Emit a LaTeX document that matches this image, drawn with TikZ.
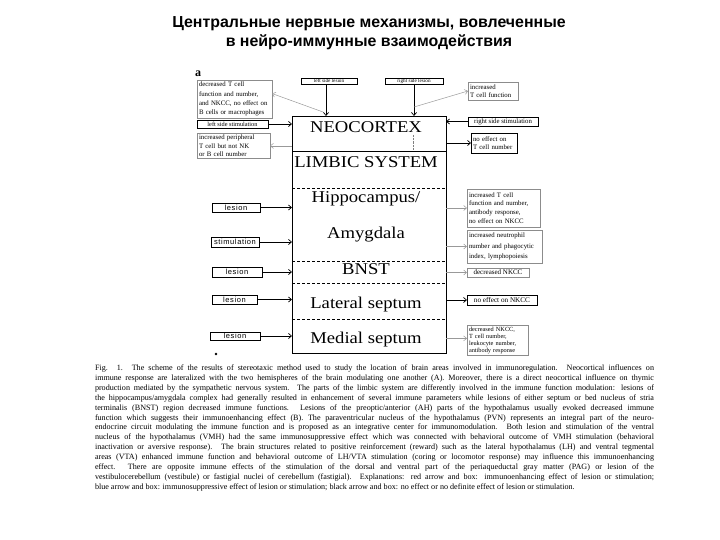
\documentclass[tikz,border=0pt]{standalone}
\usepackage{fontspec}
\setmainfont{Liberation Serif}
\newfontfamily\titlefont{Liberation Sans}
\newfontfamily\lesfont[LetterSpace=8]{Liberation Sans}
\usetikzlibrary{arrows.meta}
\begin{document}
\begin{tikzpicture}[x=1pt,y=-1pt,
  every node/.style={inner sep=0pt, outer sep=0pt},
  blk/.style={draw=black, line width=0.9pt, inner sep=2pt},
  gry/.style={draw=black!45, line width=0.6pt, inner sep=2pt},
  arr/.style={-{Straight Barb[length=3pt,width=5pt]}, line width=0.7pt},
  garr/.style={-{Straight Barb[length=3pt,width=5pt]}, draw=black!40, line width=0.5pt},
  lbl/.style={font=\fontsize{16.5}{18}\selectfont, anchor=base},
  sm/.style={font=\fontsize{6.8}{8.8}\selectfont, align=left},
  les/.style={draw=black, line width=0.8pt, font=\lesfont\fontsize{7.5}{8}\selectfont},
  captxt/.style={font=\fontsize{8.1}{9}\selectfont, anchor=base west},
  ttl/.style={font=\titlefont\bfseries\fontsize{15.9}{18}\selectfont, anchor=base},
]
\useasboundingbox (0,0) rectangle (720,540);
% title
\node[ttl] (t1) at (369,28) {Центральные нервные механизмы, вовлеченные};
\node[ttl] (t2) at (369,46.5) {в нейро-иммунные взаимодействия};
\node[font=\bfseries\fontsize{12}{12}\selectfont, anchor=base west] (a) at (195,77) {a};
% column
\node[draw=black, line width=0.8pt, minimum width=154pt, minimum height=237pt, anchor=north west] (col) at (292,116) {};
\draw[line width=0.8pt] (292,151) -- (446,151);
\draw[densely dashed, line width=0.6pt] (292,188) -- (446,188);
\draw[densely dashed, line width=0.6pt] (292,261) -- (446,261);
\draw[densely dashed, line width=0.6pt] (292,283) -- (446,283);
\draw[densely dashed, line width=0.6pt] (292,319) -- (446,319);
\draw[densely dotted, black!50] (413,135) -- (413,150);
\node[lbl] (neo) at (366,133) {\scalebox{1.13}[1]{NEOCORTEX}};
\node[lbl] (lim) at (366,168) {\scalebox{1.13}[1]{LIMBIC SYSTEM}};
\node[lbl] (hip) at (366,203) {\scalebox{1.13}[1]{Hippocampus/}};
\node[lbl] (amy) at (366,238) {\scalebox{1.13}[1]{Amygdala}};
\node[lbl] (bnst) at (366,274) {\scalebox{1.13}[1]{BNST}};
\node[lbl] (lat) at (366,308) {\scalebox{1.13}[1]{Lateral septum}};
\node[lbl] (med) at (366,343) {\scalebox{1.13}[1]{Medial septum}};
% top boxes
\node[blk, line width=0.7pt, inner sep=0pt, minimum width=56pt, minimum height=6pt, anchor=north west, font=\fontsize{5.2}{5.2}\selectfont] (tl) at (301,78) {left side lesion};
\node[blk, line width=0.7pt, inner sep=0pt, minimum width=58pt, minimum height=6pt, anchor=north west, font=\fontsize{5.2}{5.2}\selectfont] (tr) at (385,78) {right side lesion};
\draw[arr] ([xshift=-3pt]tl.south) -- ([xshift=-3pt]tl.south |- col.north);
\draw[arr] (tr.south) -- (tr.south |- col.north);
% left upper boxes
\node[gry, minimum width=75pt, minimum height=37pt, anchor=north west, text width=71pt, sm, font=\fontsize{6.8}{9.3}\selectfont] (lt1) at (197,80) {decreased T cell\\function and number,\\and NKCC, no effect on\\B cells or macrophages};
\node[blk, minimum width=71pt, minimum height=8pt, inner sep=0pt, anchor=north west, font=\fontsize{6.3}{6.5}\selectfont] (lt2) at (197,120) {left side stimulation};
\node[gry, minimum width=73pt, minimum height=25pt, anchor=north west, text width=69pt, sm, font=\fontsize{6.8}{8.5}\selectfont] (lt3) at (197,133) {increased peripheral\\T cell but not NK\\or B cell number};
\draw[arr] (lt2.east) -- (lt2.east -| col.west);
\draw[garr] ([xshift=-6pt,yshift=-28pt]tl.south) -- ([yshift=5.5pt]lt1.east);
\draw[garr] (lt3.east -| col.west) -- (lt3.east);
% right upper boxes
\node[gry, minimum width=50pt, minimum height=18pt, anchor=north west, text width=46pt, sm, font=\fontsize{6.8}{8}\selectfont] (rs1) at (468,82) {increased\\T cell function};
\node[blk, minimum width=70pt, minimum height=9pt, inner sep=0pt, anchor=north west, font=\fontsize{6.8}{7}\selectfont] (rs2) at (468,117) {right side stimulation};
\node[blk, minimum width=46pt, minimum height=20pt, anchor=north west, text width=42pt, sm, font=\fontsize{6.8}{8}\selectfont] (rs3) at (471,133) {no effect on\\T cell number};
\draw[garr] ([yshift=-23pt]tr.south) -- (rs1.west);
\draw[arr] (rs2.west) -- (rs2.west -| col.east);
\draw[arr] (rs3.west -| col.east) -- (rs3.west);
% right lower boxes
\node[gry, minimum width=73pt, minimum height=38pt, anchor=north west, text width=69pt, sm, font=\fontsize{6.8}{8.7}\selectfont] (rs4) at (467,189) {increased T cell\\function and number,\\antibody response,\\no effect on NKCC};
\node[gry, minimum width=75pt, minimum height=33pt, anchor=north west, text width=71pt, sm, font=\fontsize{6.8}{10.5}\selectfont] (rs5) at (467,230) {increased neutrophil\\number and phagocytic\\index, lymphopoiesis};
\node[gry, minimum width=62pt, minimum height=9pt, inner sep=0pt, anchor=north west, font=\fontsize{7}{7}\selectfont] (rs6) at (467,268) {decreased NKCC};
\node[blk, minimum width=70pt, minimum height=10pt, inner sep=0pt, anchor=north west, font=\fontsize{7.2}{7}\selectfont] (rs7) at (467,295) {no effect on NKCC};
\node[gry, minimum width=61pt, minimum height=29pt, anchor=north west, text width=57pt, sm, font=\fontsize{6.3}{7}\selectfont] (rs8) at (467,325) {decreased NKCC,\\T cell number,\\leukocyte number,\\antibody response};
\draw[garr] (rs4.west -| col.east) -- (rs4.west);
\draw[garr] (rs5.west -| col.east) -- (rs5.west);
\draw[garr] (rs6.west -| col.east) -- (rs6.west);
\draw[arr] (rs7.west -| col.east) -- (rs7.west);
\draw[garr] ([yshift=2pt]rs8.west -| col.east) -- ([yshift=2pt]rs8.west);
% left lesion boxes
\node[les, minimum width=48pt, minimum height=9pt, anchor=north west] (ll1) at (212,203) {lesion};
\node[les, minimum width=48pt, minimum height=10pt, anchor=north west] (ll2) at (211,237) {stimulation};
\node[les, minimum width=50pt, minimum height=10pt, anchor=north west] (ll3) at (212,267) {lesion};
\node[les, minimum width=45pt, minimum height=9pt, anchor=north west] (ll4) at (212,295) {lesion};
\node[les, minimum width=50pt, minimum height=8pt, anchor=north west] (ll5) at (210,332) {lesion};
\draw[arr] (ll1.east) -- (ll1.east -| col.west);
\draw[arr] (ll2.east) -- (ll2.east -| col.west);
\draw[arr] (ll3.east) -- (ll3.east -| col.west);
\draw[arr] (ll4.east) -- (ll4.east -| col.west);
\draw[arr] (ll5.east) -- (ll5.east -| col.west);
\fill (216,354) circle (1.3pt);
% caption
\foreach \i/\t in {
0/{Fig. 1. The scheme of the results of stereotaxic method used to study the location of brain areas involved in immunoregulation. Neocortical influences on},
1/{immune response are lateralized with the two hemispheres of the brain modulating one another (A). Moreover, there is a direct neocortical influence on thymic},
2/{production mediated by the sympathetic nervous system. The parts of the limbic system are differently involved in the immune function modulation: lesions of},
3/{the hippocampus/amygdala complex had generally resulted in enhancement of several immune parameters while lesions of either septum or bed nucleus of stria},
4/{terminalis (BNST) region decreased immune functions. Lesions of the preoptic/anterior (AH) parts of the hypothalamus usually evoked decreased immune},
5/{function which suggests their immunoenhancing effect (B). The paraventricular nucleus of the hypothalamus (PVN) represents an integral part of the neuro-},
6/{endocrine circuit modulating the immune function and is proposed as an integrative center for immunomodulation. Both lesion and stimulation of the ventral},
7/{nucleus of the hypothalamus (VMH) had the same immunosuppressive effect which was connected with behavioral outcome of VMH stimulation (behavioral},
8/{inactivation or aversive response). The brain structures related to positive reinforcement (reward) such as the lateral hypothalamus (LH) and ventral tegmental},
9/{areas (VTA) enhanced immune function and behavioral outcome of LH/VTA stimulation (coring or locomotor response) may influence this immunoenhancing},
10/{effect. There are opposite immune effects of the stimulation of the dorsal and ventral part of the periaqueductal gray matter (PAG) or lesion of the},
11/{vestibulocerebellum (vestibule) or fastigial nuclei of cerebellum (fastigial). Explanations: red arrow and box: immunoenhancing effect of lesion or stimulation;}}
{\node[captxt] (c\i) at (95,{370.5+9.9*\i}) {\makebox[559pt][s]{\t}};}
\node[captxt] (c12) at (95,489.3) {blue arrow and box: immunosuppressive effect of lesion or stimulation; black arrow and box: no effect or no definite effect of lesion or stimulation.};
\end{tikzpicture}
\end{document}
